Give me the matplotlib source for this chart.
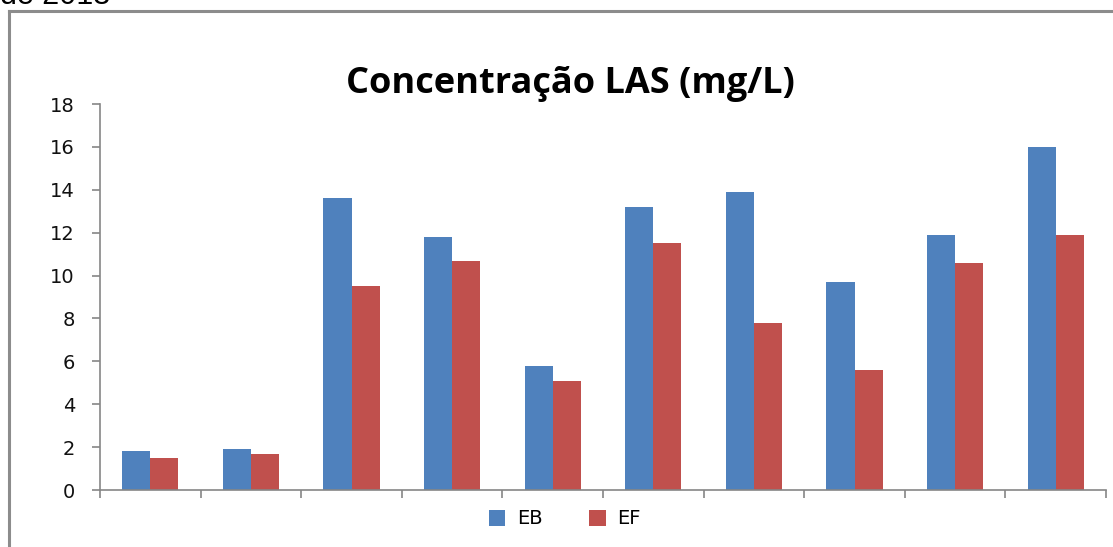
import matplotlib
matplotlib.use("Agg")
import matplotlib.pyplot as plt
from matplotlib.lines import Line2D
import numpy as np

categories = ["1", "2", "3", "4", "5", "6", "7", "8", "9", "10"]
eb_values = [1.8, 1.9, 13.6, 11.8, 5.8, 13.2, 13.9, 9.7, 11.9, 16.0]
ef_values = [1.5, 1.7, 9.5, 10.7, 5.1, 11.5, 7.8, 5.6, 10.6, 11.9]
series_names = ["EB", "EF"]
y_ticks = [0, 2, 4, 6, 8, 10, 12, 14, 16, 18]
title = "Concentração LAS (mg/L)"

W, H = 1113, 547
fig = plt.figure(figsize=(W / 100, H / 100), dpi=100)
fig.patch.set_facecolor("white")

ax = fig.add_axes([100 / W, 1 - 490 / H, (1106 - 100) / W, (490 - 104) / H])

x = np.arange(len(categories))
bw = 0.28
ax.bar(x - bw / 2, eb_values, width=bw, color="#4F81BD", label=series_names[0])
ax.bar(x + bw / 2, ef_values, width=bw, color="#C0504D", label=series_names[1])

ax.set_xlim(-0.5, len(categories) - 0.5)
ax.set_ylim(0, 18)
ax.set_yticks(y_ticks)
ax.set_xticks(np.arange(len(categories) + 1) - 0.5)
ax.set_xticklabels([])
for s in ["top", "right"]:
    ax.spines[s].set_visible(False)
for s in ["left", "bottom"]:
    ax.spines[s].set_color("#868686")
    ax.spines[s].set_linewidth(1.2)
ax.tick_params(axis="both", colors="#868686", length=6, width=1.2, direction="out")
ax.tick_params(axis="y", labelcolor="#111111", labelsize=14, pad=12)
for lbl in ax.get_yticklabels():
    lbl.set_fontfamily("DejaVu Sans")

fig.text(570 / W, 1 - 84 / H, title, ha="center", va="center",
         fontsize=26, fontweight="bold", family="Open Sans")

leg = fig.legend(loc="center", bbox_to_anchor=(565 / W, 1 - 519 / H), ncol=2,
                 frameon=False, handlelength=0.85, handleheight=0.85,
                 columnspacing=2.4, handletextpad=0.6,
                 prop={"family": "DejaVu Sans", "size": 14})

# outer frame (cut off at right/bottom)
fig.add_artist(Line2D([9 / W, 9 / W], [0, 1 - 11 / H], transform=fig.transFigure,
                      color="#8c8c8c", lw=2.2))
fig.add_artist(Line2D([9 / W, 1], [1 - 11 / H, 1 - 11 / H], transform=fig.transFigure,
                      color="#8c8c8c", lw=2.2))

# cut-off text at top (only its lower part is visible, as in the source)
fig.text(0.0, 1 - 4 / H, "de 2013", ha="left", va="baseline", fontsize=22,
         family="Liberation Sans")

fig.savefig("out.png", dpi=100, facecolor="white")
